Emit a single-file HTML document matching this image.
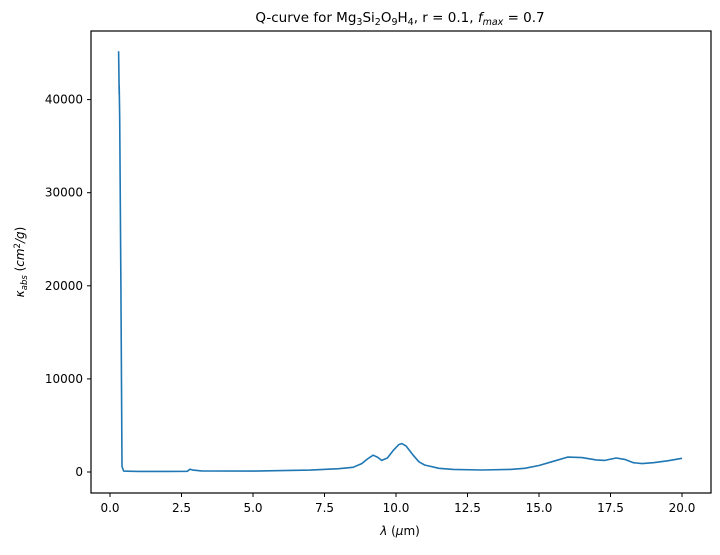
<!DOCTYPE html>
<html><head><meta charset="utf-8"><style>
body{margin:0;background:#fff;}
svg text{font-family:"DejaVu Sans","Liberation Sans",sans-serif;fill:#000;}
</style></head><body>
<svg id="chart" width="720" height="550">
<text x="400" y="22" font-size="13.5" text-anchor="middle">Q-curve for Mg<tspan font-size="9.5" dy="3">3</tspan><tspan dy="-3">Si</tspan><tspan font-size="9.5" dy="3">2</tspan><tspan dy="-3">O</tspan><tspan font-size="9.5" dy="3">9</tspan><tspan dy="-3">H</tspan><tspan font-size="9.5" dy="3">4</tspan><tspan dy="-3">, r = 0.1, </tspan><tspan font-style="italic">f</tspan><tspan font-size="9.5" font-style="italic" dy="3">max</tspan><tspan dy="-3"> = 0.7</tspan></text>
<g id="xt"></g><g id="yt"></g>
<path id="line" fill="none" stroke="#1f77b4" stroke-width="1.6" stroke-linejoin="round"/>
<rect x="91" y="31" width="620" height="462" fill="none" stroke="#000" stroke-width="1.2"/>
<text x="400" y="535" font-size="12" text-anchor="middle"><tspan font-style="italic">λ</tspan> (<tspan font-style="italic">μ</tspan>m)</text>
<text transform="translate(24,262) rotate(-90)" font-size="12" text-anchor="middle"><tspan font-style="italic">κ</tspan><tspan font-size="8.5" font-style="italic" dy="3">abs</tspan><tspan dy="-3"> (</tspan><tspan font-style="italic">cm</tspan><tspan font-size="8.5" dy="-4">2</tspan><tspan dy="4" font-style="italic">/g</tspan>)</text>
</svg>
<script>
const xTicks=[0,2.5,5,7.5,10,12.5,15,17.5,20];
const yTicks=[0,10000,20000,30000,40000];
const lam=[0.3,0.32,0.32,0.34,0.38,0.42,0.48,1,2,2.7,2.8,2.9,3.2,5,7,8,8.5,8.8,9,9.2,9.35,9.5,9.7,9.9,10.1,10.2,10.35,10.6,10.8,11,11.5,12,13,14,14.5,15,15.5,16,16.5,17,17.3,17.7,18,18.3,18.6,19,19.5,20];
const kap=[45200,40600,41500,38000,20000,600,100,60,60,80,300,200,120,100,200,350,500,900,1400,1800,1600,1250,1500,2300,2950,3050,2800,1800,1100,750,400,280,220,280,400,700,1150,1600,1550,1300,1250,1500,1350,1000,900,1000,1200,1470];
const sx=v=>110+(v-0)*(682-110)/20;
const sy=v=>472-v*93.1/10000;
const NS="http://www.w3.org/2000/svg";
const xt=document.getElementById('xt'),yt=document.getElementById('yt');
xTicks.forEach(t=>{
const l=document.createElementNS(NS,'line');l.setAttribute('x1',sx(t));l.setAttribute('x2',sx(t));l.setAttribute('y1',493);l.setAttribute('y2',497);l.setAttribute('stroke','#000');


xt.appendChild(l);
const tx=document.createElementNS(NS,'text');tx.setAttribute('x',sx(t));tx.setAttribute('y',512);tx.setAttribute('font-size','12');tx.setAttribute('text-anchor','middle');tx.textContent=t.toFixed(1);


xt.appendChild(tx);});
yTicks.forEach(t=>{
const l=document.createElementNS(NS,'line');l.setAttribute('x1',87);l.setAttribute('x2',91);l.setAttribute('y1',sy(t));l.setAttribute('y2',sy(t));l.setAttribute('stroke','#000');


yt.appendChild(l);
const tx=document.createElementNS(NS,'text');tx.setAttribute('x',83);tx.setAttribute('y',sy(t)+4);tx.setAttribute('font-size','12');tx.setAttribute('text-anchor','end');tx.textContent=t;


yt.appendChild(tx);});
document.getElementById('line').setAttribute('d',lam.map((v,i)=>(i?'L':'M')+sx(v).toFixed(1)+','+sy(kap[i]).toFixed(1)).join(''));
</script>
</body></html>
